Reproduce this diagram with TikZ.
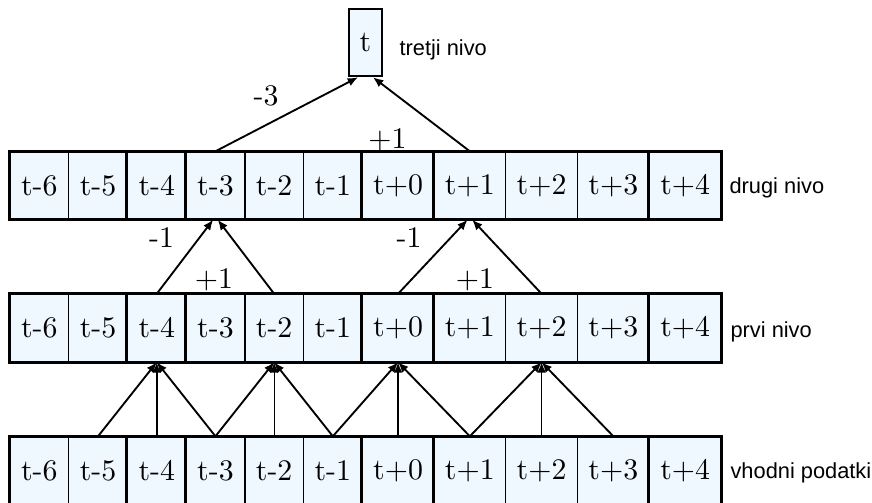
\documentclass[tikz,border=0pt]{standalone}
\usepackage{fontspec}
\newfontfamily\labfont{Liberation Sans}
\usetikzlibrary{arrows.meta}
\definecolor{cellfill}{RGB}{239,247,255}
\begin{document}
\begin{tikzpicture}[x=0.3484pt,y=-0.3484pt,
  cell/.style={draw, line width=0.5pt, fill=cellfill, minimum height=23.34pt, inner sep=0pt, font=\fontsize{10.4}{12}\selectfont},
  mcell/.style={cell, minimum width=20.45pt},
  pcell/.style={cell, minimum width=25.0pt},
  lvl/.style={anchor=base west, inner sep=0pt, font=\labfont\fontsize{7.6}{9}\selectfont},
  arr/.style={-{Latex[length=3.6pt,width=3pt]}, line width=0.65pt},
  thinarr/.style={arr, line width=0.45pt},
  frame/.style={line width=0.95pt},
  wt/.style={font=\fontsize{10.4}{12}\selectfont, inner sep=0pt}]
\useasboundingbox (0,0) rectangle (872,503);
% rows of cells
\foreach \r/\y in {d/185.5, p/328, v/470.5} {
  \foreach \n [count=\k] in {6,5,4,3,2,1}
    \node[mcell] (\r m\n) at ({10+58.7*(\k-0.5)},\y) {t-\n};
  \foreach \n [count=\k] in {0,1,2,3,4}
    \node[pcell] (\r p\n) at ({362.2+71.76*(\k-0.5)},\y) {t+\n};
  \draw[frame] (\r m6.north west) rectangle (\r p4.south east);
  \draw[frame] (\r m4.north west) -- (\r m4.south west);
  \draw[frame] (\r m3.north west) -- (\r m3.south west);
  \draw[frame] (\r p0.north west) -- (\r p0.south west);
  \draw[frame] (\r p1.north west) -- (\r p1.south west);
  \draw[frame] (\r p4.north west) -- (\r p4.south west);
}
% top box
\node[cell, minimum width=11.5pt, line width=0.9pt] (top) at (365.5,42.5) {t};
% level labels
\node[lvl] (lt) at (399,56) {tretji nivo};
\node[lvl] (ld) at (729,194) {drugi nivo};
\node[lvl] (lp) at (730,337) {prvi nivo};
\node[lvl] (lv) at (730,478) {vhodni podatki};
% third level arrows
\draw[arr] (dm3.north) -- ([xshift=-2.6pt]top.south);
\draw[arr] (dp1.north) -- ([xshift=2.6pt]top.south);
\node[wt] (w1) at (266,96) {-3};
\node[wt] (w2) at (387.5,140) {+1};
% second level arrows
\draw[arr] (pm4.north) -- ([xshift=-0.8pt]dm3.south);
\draw[arr] (pm2.north) -- ([xshift=0.8pt]dm3.south);
\draw[arr] (pp0.north) -- ([xshift=-0.8pt]dp1.south);
\draw[arr] (pp2.north) -- ([xshift=0.8pt]dp1.south);
\node[wt] (w3) at (161.5,238) {-1};
\node[wt] (w4) at (214,280) {+1};
\node[wt] (w5) at (409,238) {-1};
\node[wt] (w6) at (475,280) {+1};
% first level arrows
\draw[arr] (vm5.north) -- (pm4.south);
\draw[arr] (vm4.north) -- (pm4.south);
\draw[arr] (vm3.north) -- (pm4.south);
\draw[arr] (vm3.north) -- (pm2.south);
\draw[thinarr] (vm2.north) -- (pm2.south);
\draw[arr] (vm1.north) -- (pm2.south);
\draw[arr] (vm1.north) -- (pp0.south);
\draw[arr] (vp0.north) -- (pp0.south);
\draw[arr] (vp1.north) -- (pp0.south);
\draw[arr] (vp1.north) -- (pp2.south);
\draw[thinarr] (vp2.north) -- (pp2.south);
\draw[arr] (vp3.north) -- (pp2.south);
\end{tikzpicture}
\end{document}
